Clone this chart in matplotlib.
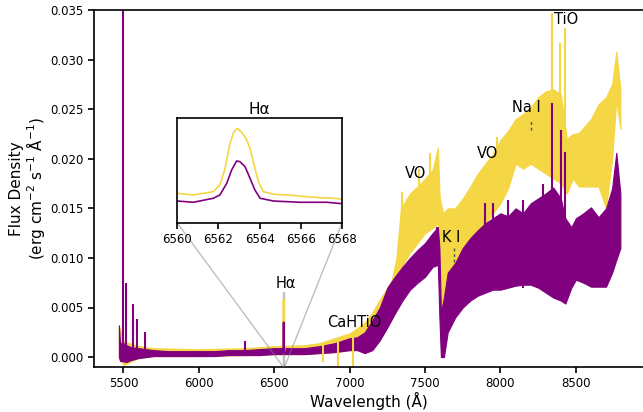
import matplotlib

matplotlib.use("Agg")
import matplotlib.pyplot as plt
from mpl_toolkits.axes_grid1.inset_locator import mark_inset

PURPLE = "#800080"
YELLOW = "#f5d645"

# envelope of the purple spectrum (wavelength, lower, upper)
purple_wave = [5470, 5478, 5490, 5520, 5550, 5600, 5650, 5700, 5800, 5900, 6000,
               6100, 6200, 6300, 6400, 6500, 6600, 6700, 6800, 6900, 7000, 7050,
               7100, 7150, 7200, 7250, 7300, 7350, 7400, 7450, 7500, 7550, 7585,
               7595, 7605, 7625, 7650, 7700, 7750, 7800, 7850, 7900, 7950, 8000,
               8050, 8100, 8150, 8200, 8250, 8300, 8350, 8400, 8430, 8470, 8500,
               8550, 8600, 8650, 8700, 8740, 8768, 8795]
purple_lo = [0.0000, -0.0004, -0.0004, -0.0005, -0.0003, -0.0001, 0.0000, 0.0001,
             0.0001, 0.0001, 0.0001, 0.0001, 0.0002, 0.0002, 0.0002, 0.0003, 0.0003,
             0.0003, 0.0004, 0.0005, 0.0007, 0.0007, 0.0004, 0.0007, 0.0017, 0.0030,
             0.0044, 0.0057, 0.0068, 0.0075, 0.0081, 0.0091, 0.0093, 0.0040, 0.0000,
             0.0000, 0.0025, 0.0040, 0.0050, 0.0057, 0.0062, 0.0065, 0.0068, 0.0068,
             0.0070, 0.0072, 0.0073, 0.0073, 0.0070, 0.0065, 0.0060, 0.0057, 0.0054,
             0.0070, 0.0078, 0.0075, 0.0071, 0.0071, 0.0071, 0.0085, 0.0098, 0.0110]
purple_hi = [0.0032, 0.0012, 0.0015, 0.0012, 0.0010, 0.0009, 0.0008, 0.0007,
             0.0006, 0.0006, 0.0006, 0.0006, 0.0007, 0.0007, 0.0008, 0.0009, 0.0009,
             0.0009, 0.0011, 0.0014, 0.0019, 0.0020, 0.0025, 0.0037, 0.0050, 0.0070,
             0.0081, 0.0091, 0.0100, 0.0108, 0.0115, 0.0125, 0.0131, 0.0110, 0.0045,
             0.0060, 0.0085, 0.0095, 0.0110, 0.0120, 0.0128, 0.0135, 0.0140, 0.0145,
             0.0142, 0.0150, 0.0145, 0.0155, 0.0160, 0.0165, 0.0171, 0.0160, 0.0140,
             0.0131, 0.0140, 0.0145, 0.0151, 0.0141, 0.0150, 0.0170, 0.0206, 0.0165]

# envelope of the yellow spectrum
yellow_wave = [5470, 5500, 5600, 5700, 6000, 6300, 6500, 6700, 6800, 6900, 7000,
               7050, 7100, 7150, 7200, 7250, 7280, 7310, 7340, 7400, 7450, 7500,
               7550, 7585, 7597, 7620, 7650, 7700, 7750, 7800, 7850, 7900, 7950,
               8000, 8050, 8100, 8150, 8200, 8250, 8300, 8350, 8400, 8440, 8480,
               8520, 8600, 8650, 8700, 8740, 8768, 8795]
yellow_lo = [0.0000, -0.0008, -0.0001, 0.0001, 0.0001, 0.0002, 0.0003, 0.0003,
             0.0004, 0.0005, 0.0007, 0.0007, 0.0010, 0.0020, 0.0035, 0.0050, 0.0060,
             0.0075, 0.0090, 0.0105, 0.0115, 0.0125, 0.0130, 0.0135, 0.0060, 0.0050,
             0.0050, 0.0060, 0.0080, 0.0110, 0.0125, 0.0135, 0.0145, 0.0155, 0.0170,
             0.0195, 0.0190, 0.0195, 0.0190, 0.0185, 0.0180, 0.0175, 0.0165, 0.0180,
             0.0172, 0.0172, 0.0172, 0.0150, 0.0200, 0.0259, 0.0230]
yellow_hi = [0.0032, 0.0016, 0.0011, 0.0009, 0.0008, 0.0009, 0.0011, 0.0012,
             0.0014, 0.0019, 0.0024, 0.0029, 0.0035, 0.0045, 0.0058, 0.0070, 0.0078,
             0.0100, 0.0150, 0.0165, 0.0172, 0.0180, 0.0189, 0.0211, 0.0160, 0.0145,
             0.0150, 0.0150, 0.0160, 0.0172, 0.0185, 0.0195, 0.0205, 0.0219, 0.0228,
             0.0240, 0.0245, 0.0252, 0.0262, 0.0268, 0.0270, 0.0265, 0.0220, 0.0225,
             0.0226, 0.0240, 0.0255, 0.0262, 0.0275, 0.0308, 0.0271]

# narrow features (wavelength, bottom, top)
purple_spike_wave = [5497, 5517, 5565, 5590, 5642, 6309, 7580, 7900, 7950, 8050,
                     8150, 8285, 8343, 8402, 8428]
purple_spike_lo = [0.0, 0.0, 0.0, 0.0, 0.0, 0.0003, 0.0093, 0.0070, 0.0070, 0.0070,
                   0.0070, 0.0070, 0.0090, 0.0080, 0.0080]
purple_spike_hi = [0.0360, 0.0075, 0.0054, 0.0038, 0.0025, 0.0016, 0.0131, 0.0155,
                   0.0155, 0.0158, 0.0158, 0.0175, 0.0256, 0.0229, 0.0207]
yellow_spike_wave = [6822, 6920, 7020, 7344, 7460, 7530, 7980, 8343, 8396, 8429]
yellow_spike_lo = [-0.0005, -0.0010, -0.0010, 0.0100, 0.0120, 0.0130, 0.0160,
                   0.0200, 0.0180, 0.0180]
yellow_spike_hi = [0.0015, 0.0018, 0.0025, 0.0166, 0.0190, 0.0206, 0.0222,
                   0.0347, 0.0317, 0.0332]

# H-alpha profile
ha_wave = [6560.0, 6560.78, 6561.26, 6561.75, 6562.07, 6562.32, 6562.56, 6562.75,
           6562.92, 6563.13, 6563.34, 6563.53, 6563.73, 6563.94, 6564.18, 6564.67,
           6565.39, 6566.28, 6566.93, 6567.58, 6568.0]
ha_yellow = [0.00115, 0.00103, 0.00115, 0.00127, 0.00175, 0.00296, 0.00477, 0.00561,
             0.00585, 0.00556, 0.00513, 0.00441, 0.00320, 0.00199, 0.00127, 0.00108,
             0.00103, 0.00090, 0.00083, 0.00079, 0.00072]
ha_wave_p = [6560.0, 6560.78, 6561.75, 6562.07, 6562.4, 6562.64, 6562.88, 6563.04,
             6563.29, 6563.53, 6563.77, 6564.02, 6564.67, 6565.96, 6567.26, 6568.0]
ha_purple = [0.00059, 0.00050, 0.00079, 0.00103, 0.00187, 0.00284, 0.00349, 0.00344,
             0.00308, 0.00224, 0.00139, 0.00079, 0.00059, 0.00050, 0.00050, 0.00040]

# labels for the spectral features (text, wavelength, flux)
feature_names = ["TiO", "Na I", "VO", "VO", "K I", "CaHTiO", "Hα"]
feature_wave = [8437, 8175, 7914, 7440, 7675, 7033, 6576]
feature_flux = [0.0340, 0.0252, 0.0205, 0.0185, 0.0121, 0.0035, 0.0074]
marker_wave = [8203, 7689]
marker_lo = [0.0229, 0.0096]
marker_hi = [0.0239, 0.0110]

fig = plt.figure(figsize=(6.43, 4.12), dpi=100)
ax = fig.add_axes([94 / 643, 45 / 412, 549 / 643, 357 / 412])

ax.fill_between(yellow_wave, yellow_lo, yellow_hi, color=YELLOW, lw=0.8, ec=YELLOW)
ax.vlines(yellow_spike_wave, yellow_spike_lo, yellow_spike_hi, color=YELLOW, lw=1.5)
ax.plot(ha_wave, ha_yellow, color=YELLOW, lw=1.5)
ax.fill_between(purple_wave, purple_lo, purple_hi, color=PURPLE, lw=0.8, ec=PURPLE)
ax.vlines(purple_spike_wave, purple_spike_lo, purple_spike_hi, color=PURPLE, lw=1.5)
ax.plot(ha_wave_p, ha_purple, color=PURPLE, lw=1.5)

for name, w, f in zip(feature_names, feature_wave, feature_flux):
    ax.text(w, f, name, ha="center", va="center", fontsize=10.5)
ax.vlines(marker_wave, marker_lo, marker_hi, color="0.3", lw=1, linestyles=(0, (2, 2)))

ax.set_xlim(5305, 8945)
ax.set_ylim(-0.001, 0.035)
ax.set_xticks([5500, 6000, 6500, 7000, 7500, 8000, 8500])
ax.set_yticks([0.0, 0.005, 0.01, 0.015, 0.02, 0.025, 0.03, 0.035])
ax.yaxis.set_major_formatter(matplotlib.ticker.FormatStrFormatter("%.3f"))
ax.tick_params(labelsize=8.5, width=1.2, length=4)
for side in ["left", "bottom", "top"]:
    ax.spines[side].set_linewidth(1.2)
ax.spines["right"].set_visible(False)
ax.set_xlabel("Wavelength (Å)", fontsize=11, labelpad=1)
ax.set_ylabel("Flux Density\n(erg cm$^{-2}$ s$^{-1}$ Å$^{-1}$)", fontsize=11,
              linespacing=1.05, labelpad=2)

axins = fig.add_axes([177.3 / 643, 189 / 412, 164.7 / 643, 105 / 412])
axins.plot(ha_wave, ha_yellow, color=YELLOW, lw=1.2)
axins.plot(ha_wave_p, ha_purple, color=PURPLE, lw=1.2)
axins.set_xlim(6560, 6568)
axins.set_ylim(-0.001, 0.0066)
axins.set_xticks([6560, 6562, 6564, 6566, 6568])
axins.set_yticks([])
axins.tick_params(labelsize=8.5, width=1.2, length=4)
for side in axins.spines.values():
    side.set_linewidth(1.2)
axins.set_title("Hα", fontsize=11, pad=3)

mark_inset(ax, axins, loc1=3, loc2=4, fc="none", ec="0.5", alpha=0.5)

fig.savefig("out.png", dpi=100)
